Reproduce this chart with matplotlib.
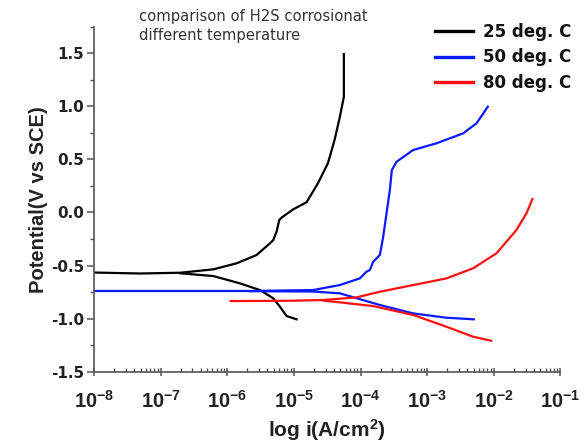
import numpy as np
import matplotlib
matplotlib.use("Agg")
import matplotlib.pyplot as plt
from matplotlib.ticker import MultipleLocator, LogLocator, NullFormatter, FixedLocator

plt.rcParams['font.family'] = ['Liberation Sans', 'DejaVu Sans']
plt.rcParams['mathtext.fontset'] = 'custom'
plt.rcParams['mathtext.rm'] = 'Liberation Sans:bold'
plt.rcParams['mathtext.bf'] = 'Liberation Sans:bold'
plt.rcParams['mathtext.it'] = 'Liberation Sans:bold'

# 25 deg C (log10 i, E)
b_an_logi = [-8.0, -7.31, -6.71, -6.21, -5.86, -5.56, -5.36, -5.31, -5.26, -5.22, -5.18,
             -5.01, -4.81, -4.64, -4.49, -4.39, -4.31, -4.25, -4.25]
b_an_E = [-0.566, -0.575, -0.568, -0.536, -0.479, -0.401, -0.291, -0.260, -0.181, -0.071, -0.046,
          0.030, 0.096, 0.275, 0.463, 0.683, 0.902, 1.091, 1.493]
b_ca_logi = [-6.71, -6.21, -5.81, -5.51, -5.31, -5.21, -5.11, -4.96]
b_ca_E = [-0.573, -0.599, -0.668, -0.731, -0.809, -0.888, -0.976, -1.007]

# 50 deg C
u_an_logi = [-8.0, -5.66, -4.71, -4.31, -4.01, -3.91, -3.86, -3.81, -3.71, -3.66, -3.61,
             -3.56, -3.53, -3.46, -3.21, -2.86, -2.46, -2.26, -2.09]
u_an_E = [-0.740, -0.740, -0.731, -0.684, -0.621, -0.558, -0.542, -0.464, -0.401, -0.229, -0.008,
          0.212, 0.400, 0.478, 0.589, 0.652, 0.746, 0.840, 0.997]
u_ca_logi = [-5.66, -4.71, -4.31, -3.71, -3.21, -2.71, -2.30]
u_ca_E = [-0.742, -0.745, -0.762, -0.872, -0.951, -0.992, -1.007]

# 80 deg C
r_an_logi = [-5.95, -5.06, -4.56, -4.06, -3.71, -3.21, -2.71, -2.31, -1.96, -1.66, -1.51, -1.42]
r_an_E = [-0.835, -0.832, -0.825, -0.800, -0.747, -0.684, -0.621, -0.526, -0.385, -0.165, -0.008, 0.127]
r_ca_logi = [-4.56, -3.81, -3.21, -2.71, -2.31, -2.04]
r_ca_E = [-0.830, -0.882, -0.966, -1.077, -1.171, -1.209]

labels = ["25 deg. C", "50 deg. C", "80 deg. C"]
yticks = [-1.5, -1.0, -0.5, 0.0, 0.5, 1.0, 1.5]
xexps = list(range(-8, 0))

fig = plt.figure(figsize=(5.85, 4.44), dpi=100)
ax = fig.add_axes([0.1607, 0.163, 0.7973, 0.7766])

def p(l):
    return 10.0 ** np.array(l)

lw = 1.6
l1, = ax.plot(p(b_an_logi), b_an_E, color='black', lw=lw)
ax.plot(p(b_ca_logi), b_ca_E, color='black', lw=lw)
l2, = ax.plot(p(u_an_logi), u_an_E, color='#0a1aff', lw=lw)
ax.plot(p(u_ca_logi), u_ca_E, color='#0a1aff', lw=lw)
l3, = ax.plot(p(r_an_logi), r_an_E, color='#ff1010', lw=lw)
ax.plot(p(r_ca_logi), r_ca_E, color='#ff1010', lw=lw)

ax.set_xscale('log')
ax.set_xlim(1e-8, 1e-1)
ax.set_ylim(-1.5, 1.75)
ax.yaxis.set_major_locator(FixedLocator(yticks))
ax.set_yticklabels([f"{v:.1f}" for v in yticks], fontweight='bold', fontsize=11,
                   family='DejaVu Sans', color='#222222')
ax.yaxis.set_minor_locator(MultipleLocator(0.25))
ax.xaxis.set_minor_locator(LogLocator(base=10, subs=np.arange(2, 10), numticks=20))
ax.xaxis.set_minor_formatter(NullFormatter())
ax.set_xticks([10.0 ** k for k in xexps])
ax.set_xticklabels([r'$\mathregular{10^{%d}}$' % k for k in xexps], fontsize=14.5,
                   fontweight='bold', color='#222222')

for s in ['top', 'right']:
    ax.spines[s].set_visible(False)
for s in ['left', 'bottom']:
    ax.spines[s].set_color('#555555')
    ax.spines[s].set_linewidth(1.2)
ax.tick_params(axis='y', which='major', direction='out', length=5, width=1.1, color='#555555', pad=2)
ax.tick_params(axis='y', which='minor', direction='out', length=3, width=1.0, color='#555555')
ax.tick_params(axis='x', which='major', direction='inout', length=6, width=1.1, color='#555555', pad=10)
ax.tick_params(axis='x', which='minor', direction='in', length=3, width=1.0, color='#555555')

ax.set_ylabel("Potential(V vs SCE)", fontweight='bold', fontsize=14.5, labelpad=2, color='#222222')
ax.set_xlabel(r"log i(A/cm$^\mathregular{2}$)", fontweight='bold', fontsize=15, labelpad=4,
              color='#222222')

fig.text(139 / 585, 1 - 9 / 444, "comparison of H2S corrosionat\ndifferent temperature",
         fontsize=10.6, family='DejaVu Sans', color='#333333', va='top', ha='left', linespacing=1.3)

leg = fig.legend([l1, l2, l3], labels, loc='upper left', bbox_to_anchor=(420 / 585, 1 - 8 / 444),
                 frameon=False, prop={'weight': 'bold', 'size': 12, 'family': 'DejaVu Sans'},
                 handlelength=2.3, handletextpad=0.6, labelspacing=0.45)
for h in leg.get_lines():
    h.set_linewidth(2.4)
for t in leg.get_texts():
    t.set_color('#111111')

fig.savefig("out.png", dpi=100)
